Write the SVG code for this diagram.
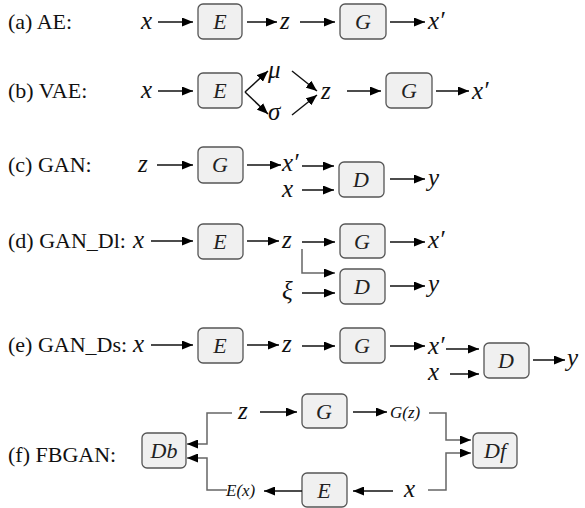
<svg xmlns="http://www.w3.org/2000/svg" width="585" height="508" viewBox="0 0 585 508">
<defs>
<marker id="ah" markerUnits="userSpaceOnUse" markerWidth="11" markerHeight="9" refX="11" refY="4.5" orient="auto"><path d="M0,0 L11,4.5 L0,9 z" fill="#000"/></marker>
<style>
text{font-family:'Liberation Serif','Times New Roman','DejaVu Serif',serif}
.lbl{font-size:22px;fill:#111}
.v{font-style:italic;font-size:25px;fill:#111}
.s{font-style:italic;font-size:17px;fill:#111}
.bx rect{fill:#f0f0f0;stroke:#555;stroke-width:1.3}
.bx text{font-style:italic;font-size:22px;fill:#222;text-anchor:middle}
.c line,.c polyline{stroke:#111;stroke-width:1.5;fill:none}
.c .g{stroke:#666}
</style>
</defs>
<rect width="585" height="508" fill="#fff"/>

<g id="labels" class="lbl">
<text x="8" y="29">(a) AE:</text>
<text x="8" y="98">(b) VAE:</text>
<text x="8" y="172">(c) GAN:</text>
<text x="8" y="248">(d) GAN_Dl:</text>
<text x="8" y="352">(e) GAN_Ds:</text>
<text x="8" y="462">(f) FBGAN:</text>
</g>

<g id="vars">
<text class="v" x="141" y="29">x</text>
<text class="v" x="280" y="29">z</text>
<text class="v" x="428" y="29">x′</text>
<text class="v" x="141" y="98">x</text>
<text class="v" x="268" y="78">μ</text>
<text class="v" x="268" y="120">σ</text>
<text class="v" x="321" y="99">z</text>
<text class="v" x="472" y="99">x′</text>
<text class="v" x="138" y="172">z</text>
<text class="v" x="282" y="171">x′</text>
<text class="v" x="282" y="197">x</text>
<text class="v" x="428" y="186">y</text>
<text class="v" x="133" y="248">x</text>
<text class="v" x="282" y="248">z</text>
<text class="v" x="428" y="248">x′</text>
<text class="v" x="282" y="299">ξ</text>
<text class="v" x="428" y="292">y</text>
<text class="v" x="133" y="352">x</text>
<text class="v" x="282" y="352">z</text>
<text class="v" x="428" y="354">x′</text>
<text class="v" x="428" y="380">x</text>
<text class="v" x="567" y="366">y</text>
<text class="v" x="238" y="419">z</text>
<text class="s" x="390" y="418">G(z)</text>
<text class="s" x="226" y="496">E(x)</text>
<text class="v" x="404" y="497">x</text>
</g>

<g id="nodeA_E" class="bx"><rect x="198" y="4" width="44" height="35" rx="5"/><text x="220" y="29">E</text></g>
<g id="nodeA_G" class="bx"><rect x="340" y="4" width="46" height="35" rx="5"/><text x="363" y="29">G</text></g>
<g id="nodeB_E" class="bx"><rect x="198" y="73" width="44" height="35" rx="5"/><text x="220" y="98">E</text></g>
<g id="nodeB_G" class="bx"><rect x="386" y="73" width="46" height="35" rx="5"/><text x="409" y="98">G</text></g>
<g id="nodeC_G" class="bx"><rect x="198" y="147" width="45" height="36" rx="5"/><text x="220" y="172">G</text></g>
<g id="nodeC_D" class="bx"><rect x="339" y="162" width="45" height="35" rx="5"/><text x="361" y="187">D</text></g>
<g id="nodeD_E" class="bx"><rect x="198" y="224" width="45" height="35" rx="5"/><text x="220" y="249">E</text></g>
<g id="nodeD_G" class="bx"><rect x="340" y="224" width="45" height="34" rx="5"/><text x="362" y="249">G</text></g>
<g id="nodeD_D" class="bx"><rect x="340" y="269" width="45" height="35" rx="5"/><text x="362" y="294">D</text></g>
<g id="nodeE_E" class="bx"><rect x="198" y="328" width="45" height="35" rx="5"/><text x="220" y="353">E</text></g>
<g id="nodeE_G" class="bx"><rect x="340" y="328" width="45" height="35" rx="5"/><text x="362" y="353">G</text></g>
<g id="nodeE_D" class="bx"><rect x="484" y="343" width="45" height="35" rx="5"/><text x="506" y="368">D</text></g>
<g id="nodeF_Db" class="bx"><rect x="142" y="433" width="44" height="35" rx="5"/><text x="164" y="458">Db</text></g>
<g id="nodeF_G" class="bx"><rect x="302" y="394" width="45" height="34" rx="5"/><text x="324" y="419">G</text></g>
<g id="nodeF_Df" class="bx"><rect x="473" y="433" width="44" height="35" rx="5"/><text x="495" y="458">Df</text></g>
<g id="nodeF_E" class="bx"><rect x="302" y="473" width="45" height="34" rx="5"/><text x="324" y="498">E</text></g>

<g id="connectors" class="c">
<line x1="158" y1="22" x2="193" y2="22" marker-end="url(#ah)"/>
<line x1="247" y1="22" x2="277" y2="22" marker-end="url(#ah)"/>
<line x1="300" y1="22" x2="335" y2="22" marker-end="url(#ah)"/>
<line x1="390" y1="22" x2="425" y2="22" marker-end="url(#ah)"/>

<line x1="158" y1="91" x2="193" y2="91" marker-end="url(#ah)"/>
<line x1="245" y1="92" x2="268" y2="71" marker-end="url(#ah)"/>
<line x1="245" y1="92" x2="268" y2="114" marker-end="url(#ah)"/>
<line x1="292" y1="71" x2="317" y2="91" marker-end="url(#ah)"/>
<line x1="292" y1="115" x2="317" y2="95" marker-end="url(#ah)"/>
<line x1="347" y1="91" x2="381" y2="91" marker-end="url(#ah)"/>
<line x1="436" y1="91" x2="469" y2="91" marker-end="url(#ah)"/>

<line x1="157" y1="165" x2="193" y2="165" marker-end="url(#ah)"/>
<line x1="247" y1="165" x2="281" y2="165" marker-end="url(#ah)"/>
<line x1="302" y1="166" x2="334" y2="166" marker-end="url(#ah)"/>
<line x1="302" y1="190" x2="334" y2="190" marker-end="url(#ah)"/>
<line x1="390" y1="179" x2="425" y2="179" marker-end="url(#ah)"/>

<line x1="151" y1="241" x2="193" y2="241" marker-end="url(#ah)"/>
<line x1="247" y1="241" x2="279" y2="241" marker-end="url(#ah)"/>
<line x1="302" y1="242" x2="335" y2="242" marker-end="url(#ah)"/>
<line x1="390" y1="242" x2="425" y2="242" marker-end="url(#ah)"/>
<polyline class="g" points="302,249 302,273 335,273" marker-end="url(#ah)"/>
<line x1="302" y1="293" x2="335" y2="293" marker-end="url(#ah)"/>
<line x1="390" y1="286" x2="425" y2="286" marker-end="url(#ah)"/>

<line x1="151" y1="345" x2="193" y2="345" marker-end="url(#ah)"/>
<line x1="247" y1="345" x2="279" y2="345" marker-end="url(#ah)"/>
<line x1="302" y1="346" x2="335" y2="346" marker-end="url(#ah)"/>
<line x1="390" y1="346" x2="425" y2="346" marker-end="url(#ah)"/>
<line x1="446" y1="349" x2="479" y2="349" marker-end="url(#ah)"/>
<line x1="450" y1="374" x2="479" y2="374" marker-end="url(#ah)"/>
<line x1="533" y1="360" x2="565" y2="360" marker-end="url(#ah)"/>

<polyline class="g" points="232,413 207,413 207,444 187,444" marker-end="url(#ah)"/>
<polyline class="g" points="227,490 207,490 207,458 187,458" marker-end="url(#ah)"/>
<line x1="260" y1="412" x2="297" y2="412" marker-end="url(#ah)"/>
<line x1="353" y1="412" x2="387" y2="412" marker-end="url(#ah)"/>
<polyline class="g" points="429,413 446,413 446,440 471,440" marker-end="url(#ah)"/>
<polyline class="g" points="428,490 446,490 446,453 471,453" marker-end="url(#ah)"/>
<line x1="393" y1="491" x2="353" y2="491" marker-end="url(#ah)"/>
<line x1="302" y1="491" x2="264" y2="491" marker-end="url(#ah)"/>
</g>
</svg>
